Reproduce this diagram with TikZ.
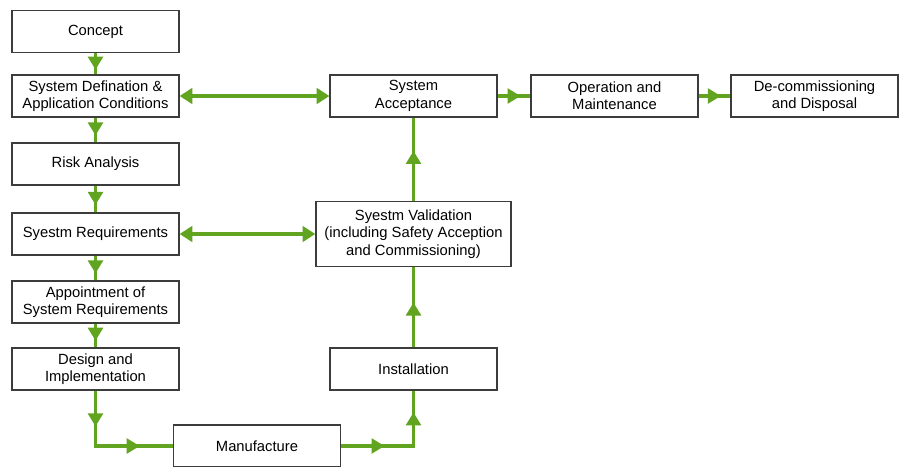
\documentclass[tikz,border=0pt]{standalone}
\usepackage{fontspec}
\setmainfont{Liberation Sans}
\usepackage{tikz}
\usetikzlibrary{arrows.meta,decorations.markings}
\definecolor{flowColor}{RGB}{96,164,32}
\definecolor{boxColor}{RGB}{60,60,60}
\tikzstyle{chart} = [x = 0.03cm, y = -0.03cm]
\tikzstyle{stageBox} = [draw=boxColor, line width=1pt, fill=white, minimum width=5.01cm, minimum height=1.26cm, align=center, inner sep=1pt, font=\fontsize{12.6}{14.8}\selectfont]
\tikzstyle{wideBox} = [stageBox, minimum width=5.85cm, minimum height=1.95cm, line width=1.2pt]
\tikzstyle{flowLine} = [draw=flowColor, line width=2.8pt]
\tikzstyle{bothWays} = [flowLine, {Triangle[length=3.8mm,width=4.6mm]}-{Triangle[length=3.8mm,width=4.6mm]}, color=flowColor]
\tikzset{midArrow/.style={postaction={decorate,decoration={markings,mark=at position #1 with {\arrow[flowColor]{Triangle[length=3.9mm,width=4.4mm]}}}}}}
\newcommand{\stage}[4]{\node [stageBox] (#1) at (#2,#3) {#4};}
\newcommand{\flowStep}[3]{\draw [flowLine, midArrow=#3] (#1) -- (#2);}

\begin{document}
\begin{tikzpicture}[chart]
  \useasboundingbox (0,0) rectangle (901,466);
  % left column
  \stage{concept}{95.5}{31.5}{Concept}
  \stage{definition}{95.5}{96}{System Defination \&\\Application Conditions}
  \stage{risk}{95.5}{164}{Risk Analysis}
  \stage{requirements}{95.5}{234}{Syestm Requirements}
  \stage{appointment}{95.5}{302}{Appointment of\\System Requirements}
  \stage{design}{95.5}{369}{Design and\\Implementation}
  \stage{manufacture}{257}{446}{Manufacture}
  % right side
  \stage{installation}{413.5}{369}{Installation}
  \node [wideBox] (validation) at (413.5,234) {Syestm Validation\\(including Safety Acception\\and Commissioning)};
  \stage{acceptance}{413.5}{96}{System\\Acceptance}
  \stage{operation}{614.5}{96}{Operation and\\Maintenance}
  \stage{disposal}{814.5}{96}{De-commissioning\\and Disposal}
  % connectors
  \flowStep{concept.south}{definition.north}{0.78}
  \flowStep{definition.south}{risk.north}{0.72}
  \flowStep{risk.south}{requirements.north}{0.72}
  \flowStep{requirements.south}{appointment.north}{0.72}
  \flowStep{appointment.south}{design.north}{0.72}
  \draw [flowLine, midArrow=0.27, midArrow=0.75] (design.south) |- (manufacture.west);
  \draw [flowLine, midArrow=0.34, midArrow=0.83] (manufacture.east) -| (installation.south);
  \flowStep{installation.north}{validation.south}{0.56}
  \flowStep{validation.north}{acceptance.south}{0.6}
  \flowStep{acceptance.east}{operation.west}{0.7}
  \flowStep{operation.east}{disposal.west}{0.7}
  \draw [bothWays] (definition.east) -- (acceptance.west);
  \draw [bothWays] (requirements.east) -- (validation.west);
\end{tikzpicture}
\end{document}
